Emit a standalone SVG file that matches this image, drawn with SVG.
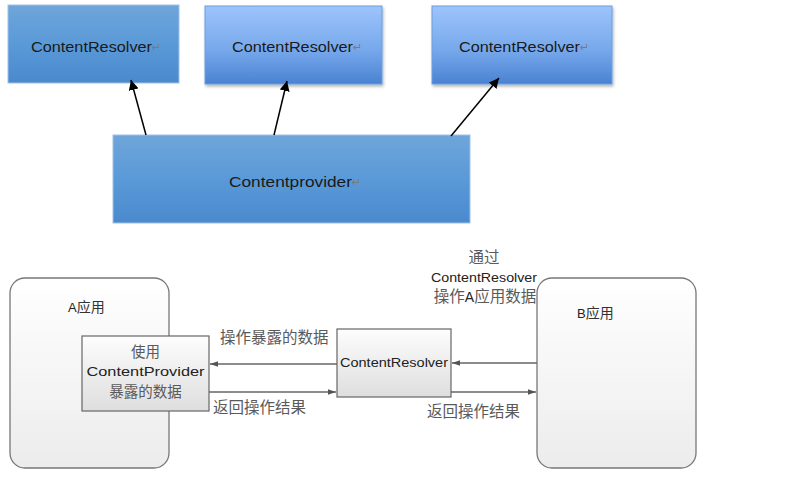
<svg xmlns="http://www.w3.org/2000/svg" width="800" height="479" viewBox="0 0 800 479">
<defs>
<linearGradient id="gA" x1="0" y1="0" x2="0" y2="1"><stop offset="0" stop-color="#6fa5da"/><stop offset="0.5" stop-color="#5a9ad8"/><stop offset="1" stop-color="#4a89cd"/></linearGradient>
<linearGradient id="gB" x1="0" y1="0" x2="0" y2="1"><stop offset="0" stop-color="#9dc4fb"/><stop offset="0.55" stop-color="#78a9ec"/><stop offset="1" stop-color="#4a82d2"/></linearGradient>
<linearGradient id="gApp" x1="0" y1="0" x2="0" y2="1"><stop offset="0" stop-color="#ffffff"/><stop offset="1" stop-color="#ececec"/></linearGradient>
<linearGradient id="gBox" x1="0" y1="0" x2="0" y2="1"><stop offset="0" stop-color="#fdfdfd"/><stop offset="1" stop-color="#dedede"/></linearGradient>
<filter id="sh" x="-10%" y="-10%" width="130%" height="140%"><feDropShadow dx="1" dy="2" stdDeviation="1.5" flood-color="#000" flood-opacity="0.3"/></filter>
<marker id="ah" viewBox="0 0 10 10" refX="10" refY="5" markerWidth="10" markerHeight="10" markerUnits="userSpaceOnUse" orient="auto"><path d="M0,0 L10,5 L0,10 z" fill="#000"/></marker>
<marker id="ah2" viewBox="0 0 10 10" refX="10" refY="5" markerWidth="8" markerHeight="8" markerUnits="userSpaceOnUse" orient="auto"><path d="M0,1.5 L10,5 L0,8.5 z" fill="#555"/></marker>
</defs>
<style>
.t1{font-family:"Liberation Sans","Noto Sans",sans-serif;font-size:15px;fill:#1a1a1a}
.ret{font-family:"DejaVu Sans",sans-serif;font-size:11px;fill:#7a7a7a}
.cn{font-family:"Noto Sans CJK SC","Noto Sans",sans-serif;font-size:15.5px;fill:#5a5a5a}
.cs{font-size:14.5px}
.en{font-family:"Liberation Sans","Noto Sans",sans-serif;font-size:13px;fill:#222}
.app{fill:url(#gApp);stroke:#777;stroke-width:1.3}
.box{fill:url(#gBox);stroke:#666;stroke-width:1.2}
.ln{stroke:#666;stroke-width:1.3;fill:none;marker-end:url(#ah2)}
</style>
<g id="cr1"><rect x="8" y="5" width="171" height="78" fill="url(#gA)" stroke="#9ec3e8" stroke-width="1"/><text class="t1" x="31" y="52" textLength="121" lengthAdjust="spacingAndGlyphs">ContentResolver</text><text class="ret" x="152" y="51">↵</text></g>
<g id="cr2"><rect x="205" y="6" width="177" height="78" fill="url(#gB)" stroke="#6a9de0" stroke-width="1" filter="url(#sh)"/><text class="t1" x="232" y="52" textLength="121" lengthAdjust="spacingAndGlyphs">ContentResolver</text><text class="ret" x="353" y="51">↵</text></g>
<g id="cr3"><rect x="432" y="6" width="180" height="78" fill="url(#gB)" stroke="#6a9de0" stroke-width="1" filter="url(#sh)"/><text class="t1" x="459" y="52" textLength="121" lengthAdjust="spacingAndGlyphs">ContentResolver</text><text class="ret" x="580" y="51">↵</text></g>
<g id="cp"><rect x="113" y="135" width="357" height="88" fill="url(#gA)" stroke="#9ec3e8" stroke-width="1"/><text class="t1" x="229" y="187" textLength="123" lengthAdjust="spacingAndGlyphs">Contentprovider</text><text class="ret" x="352" y="186">↵</text></g>
<g id="appA"><rect class="app" x="10" y="278" width="159" height="190" rx="15"/><text class="en" x="68" y="312">A<tspan style="font-family:'Noto Sans CJK SC',sans-serif;font-size:14px;fill:#333">应用</tspan></text></g>
<g id="appB"><rect class="app" x="537" y="278" width="159" height="190" rx="15"/><text class="en" x="577" y="318">B<tspan style="font-family:'Noto Sans CJK SC',sans-serif;font-size:14px;fill:#333">应用</tspan></text></g>
<g id="provider"><rect class="box" x="82" y="336" width="127" height="75"/><text class="cn cs" x="145.5" y="357" text-anchor="middle">使用</text><text class="en" x="145.5" y="376" text-anchor="middle" textLength="118" lengthAdjust="spacingAndGlyphs">ContentProvider</text><text class="cn cs" x="145.5" y="397" text-anchor="middle">暴露的数据</text></g>
<g id="resolver"><rect class="box" x="337" y="329" width="114" height="68"/><text class="en" x="340" y="367" textLength="108" lengthAdjust="spacingAndGlyphs">ContentResolver</text></g>
<g id="note"><text class="cn" x="484" y="263" text-anchor="middle">通过</text><text class="en" x="484" y="282" text-anchor="middle" textLength="106" lengthAdjust="spacingAndGlyphs">ContentResolver</text><text class="cn" x="485" y="302" text-anchor="middle">操作<tspan class="en" style="font-size:14px">A</tspan>应用数据</text></g>
<g id="connectors">
<line x1="146" y1="135" x2="131" y2="80" stroke="#000" stroke-width="1.5" marker-end="url(#ah)"/>
<line x1="274" y1="135" x2="287" y2="81" stroke="#000" stroke-width="1.5" marker-end="url(#ah)"/>
<line x1="451" y1="136" x2="499" y2="78" stroke="#000" stroke-width="1.5" marker-end="url(#ah)"/>
<line class="ln" x1="337" y1="364" x2="210" y2="364"/>
<line class="ln" x1="209" y1="392" x2="336" y2="392"/>
<line class="ln" x1="537" y1="363" x2="452" y2="363"/>
<line class="ln" x1="451" y1="392" x2="536" y2="392"/>
<text class="cn" x="220" y="343">操作暴露的数据</text>
<text class="cn" x="213" y="413">返回操作结果</text>
<text class="cn" x="427" y="417">返回操作结果</text>
</g>
</svg>
